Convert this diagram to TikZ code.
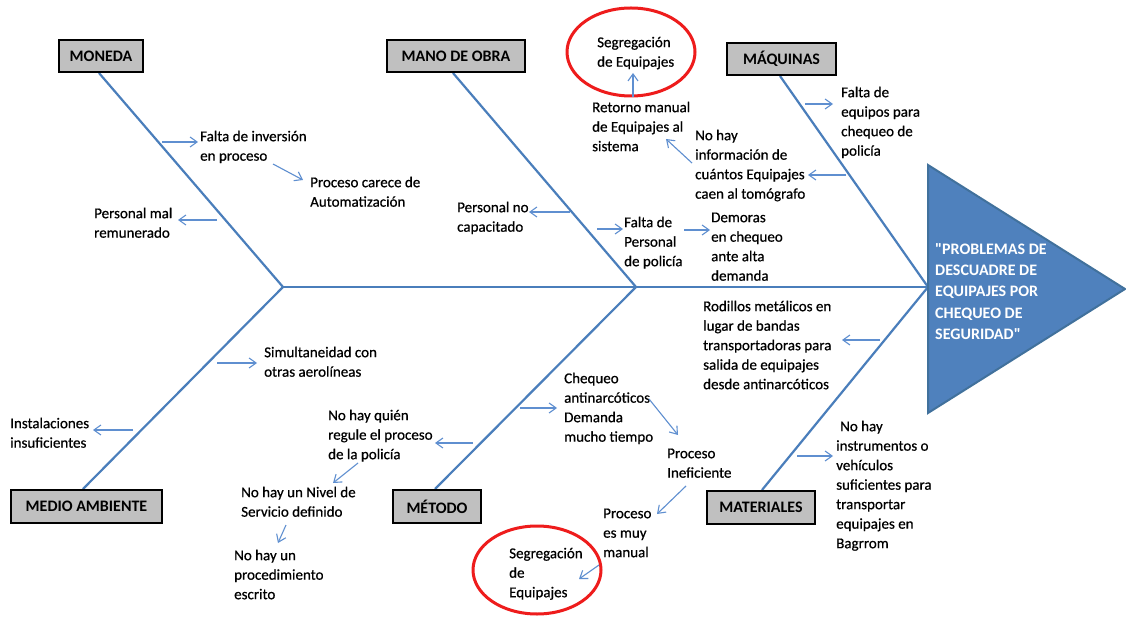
\documentclass[tikz,border=0pt]{standalone}
\usepackage{fontspec}
\setmainfont{Carlito}
\newfontfamily\bodyfont{Carlito}[RawFeature={embolden=0.6}]
\newfontfamily\headfont{Carlito}
\usetikzlibrary{arrows.meta}
\definecolor{bonecol}{HTML}{4A7EBB}
\definecolor{arrcol}{HTML}{5F8FD0}
\definecolor{headfill}{HTML}{4F81BD}
\definecolor{headline}{HTML}{41719C}
\definecolor{boxgray}{HTML}{C0C0C0}
\definecolor{ringred}{HTML}{EE1C1C}
\newcommand\mystrut{\rule{0pt}{14pt}}
\begin{document}
\begin{tikzpicture}[x=1pt,y=-1pt,
  catbox/.style={draw=black,line width=2.2pt,fill=boxgray,inner sep=0pt,
    font=\fontsize{16}{19}\selectfont\bfseries},
  txt/.style={anchor=north west,inner sep=0pt,align=left,
    font=\bodyfont\fontsize{15}{19.5}\selectfont},
  headtxt/.style={anchor=north west,inner sep=0pt,align=left,text=white,
    font=\headfont\fontsize{16}{21.3}\selectfont\bfseries},
  bone/.style={draw=bonecol,line width=2.2pt},
  small/.style={draw=arrcol,line width=1.1pt,-{Straight Barb[length=7pt,width=10pt]}},
  ring/.style={draw=ringred,line width=3pt}]
\useasboundingbox (0,0) rectangle (1126,617);
\fill[white] (0,0) rectangle (1126,617);

% bones
\coordinate (j1) at (283,287);
\coordinate (j2) at (636,287);
\coordinate (j3) at (928,287);
\coordinate (tMon) at (99,73);
\coordinate (tMed) at (83,489);
\coordinate (tMan) at (453,73);
\coordinate (tMet) at (435,489);
\coordinate (tMaq) at (780,76);
\coordinate (tMat) at (762,490);
\draw[bone] (j1) -- (j3);
\draw[bone] (tMon) -- (j1);
\draw[bone] (tMed) -- (j1);
\draw[bone] (tMan) -- (j2);
\draw[bone] (tMet) -- (j2);
\draw[bone] (tMaq) -- (j3);
\draw[bone] (tMat) -- (j3);

% head
\filldraw[fill=headfill,draw=headline,line width=2pt] (928,165) -- (1125,289) -- (928,413) -- cycle;
\node[headtxt] (head) at (935,239) {\rule{0pt}{15pt}"PROBLEMAS DE\\DESCUADRE DE\\EQUIPAJES POR\\CHEQUEO DE\\SEGURIDAD"};

% category boxes
\node[catbox,minimum width=84pt,minimum height=32pt] (mon) at (101,56) {MONEDA};
\node[catbox,minimum width=138pt,minimum height=32pt] (man) at (456,56) {MANO DE OBRA};
\node[catbox,minimum width=109pt,minimum height=32pt] (maq) at (781.5,59) {MÁQUINAS};
\node[catbox,minimum width=151pt,minimum height=33pt] (med) at (86.5,506.5) {MEDIO AMBIENTE};
\node[catbox,minimum width=88pt,minimum height=33pt] (met) at (437,506.5) {MÉTODO};
\node[catbox,minimum width=108pt,minimum height=33pt] (mat) at (761,507.5) {MATERIALES};

% red rings
\draw[ring] (631,52) ellipse [x radius=64pt,y radius=44pt];
\draw[ring] (537,570) ellipse [x radius=64pt,y radius=44pt];

% texts
\node[txt] (fi) at (200,127) {\mystrut Falta de inversión\\en proceso};
\node[txt] (pc) at (310,173) {\mystrut Proceso carece de\\Automatización};
\node[txt] (pm) at (94,204) {\mystrut Personal mal\\remunerado};
\node[txt] (si) at (264,343) {\mystrut Simultaneidad con\\otras aerolíneas};
\node[txt] (ins) at (10,414) {\mystrut Instalaciones\\insuficientes};
\node[txt] (nq) at (328,406) {\mystrut No hay quién\\regule el proceso\\de la policía};
\node[txt] (nn) at (241,483) {\mystrut No hay un Nivel de\\Servicio definido};
\node[txt] (np) at (234,546) {\mystrut No hay un\\procedimiento\\escrito};
\node[txt] (pn) at (457,198) {\mystrut Personal no\\capacitado};
\node[txt] (fp) at (624,213) {\mystrut Falta de\\Personal\\de policía};
\node[txt] (dm) at (711,208) {\mystrut Demoras\\en chequeo\\ante alta\\demanda};
\node[txt] (rm) at (592,98) {\mystrut Retorno manual\\de Equipajes al\\sistema};
\node[txt] (nh) at (695,126) {\mystrut No hay\\información de\\cuántos Equipajes\\caen al tomógrafo};
\node[txt] (fe) at (841,83) {\mystrut Falta de\\equipos para\\chequeo de\\policía};
\node[txt] (sg1) at (597,33) {\mystrut Segregación\\de Equipajes};
\node[txt] (ch) at (564,369) {\mystrut Chequeo\\antinarcóticos\\Demanda\\mucho tiempo};
\node[txt] (pi) at (667,444) {\mystrut Proceso\\Ineficiente};
\node[txt] (pe) at (603,504) {\mystrut Proceso\\es muy\\manual};
\node[txt] (sg2) at (509,544) {\mystrut Segregación\\de\\Equipajes};
\node[txt] (ro) at (703,297) {\mystrut Rodillos metálicos en\\lugar de bandas\\transportadoras para\\salida de equipajes\\desde antinarcóticos};
\node[txt] (ni) at (836,417) {\mystrut\hspace{4pt}No hay\\instrumentos o\\vehículos\\suficientes para\\transportar\\equipajes en\\Bagrrom};

% small arrows
\coordinate (a1s) at (162,142); \coordinate (a1e) at (198,142);
\coordinate (a2s) at (273,164); \coordinate (a2e) at (303,180);
\coordinate (a3s) at (217,220); \coordinate (a3e) at (178,220);
\coordinate (a4s) at (217,363); \coordinate (a4e) at (257,363);
\coordinate (a5s) at (133,430); \coordinate (a5e) at (93,430);
\coordinate (a6s) at (570,212); \coordinate (a6e) at (529,212);
\coordinate (a7s) at (597,229); \coordinate (a7e) at (623,229);
\coordinate (a8s) at (684,230); \coordinate (a8e) at (710,230);
\coordinate (a9s) at (633,97);  \coordinate (a9e) at (633,73);
\coordinate (a10s) at (692,163); \coordinate (a10e) at (666,139);
\coordinate (a11s) at (805,104); \coordinate (a11e) at (833,104);
\coordinate (a12s) at (846,175); \coordinate (a12e) at (808,175);
\coordinate (a13s) at (880,340); \coordinate (a13e) at (842,340);
\coordinate (a14s) at (797,456); \coordinate (a14e) at (833,456);
\coordinate (a15s) at (520,408); \coordinate (a15e) at (557,408);
\coordinate (a16s) at (649,399); \coordinate (a16e) at (678,435);
\coordinate (a17s) at (473,443); \coordinate (a17e) at (435,443);
\coordinate (a18s) at (358,463); \coordinate (a18e) at (333,483);
\coordinate (a19s) at (286,525); \coordinate (a19e) at (278,543);
\coordinate (a20s) at (686,486); \coordinate (a20e) at (657,514);
\coordinate (a21s) at (599,565); \coordinate (a21e) at (579,579);
\foreach \i in {1,...,21} {\draw[small] (a\i s) -- (a\i e);}
\end{tikzpicture}
\end{document}
